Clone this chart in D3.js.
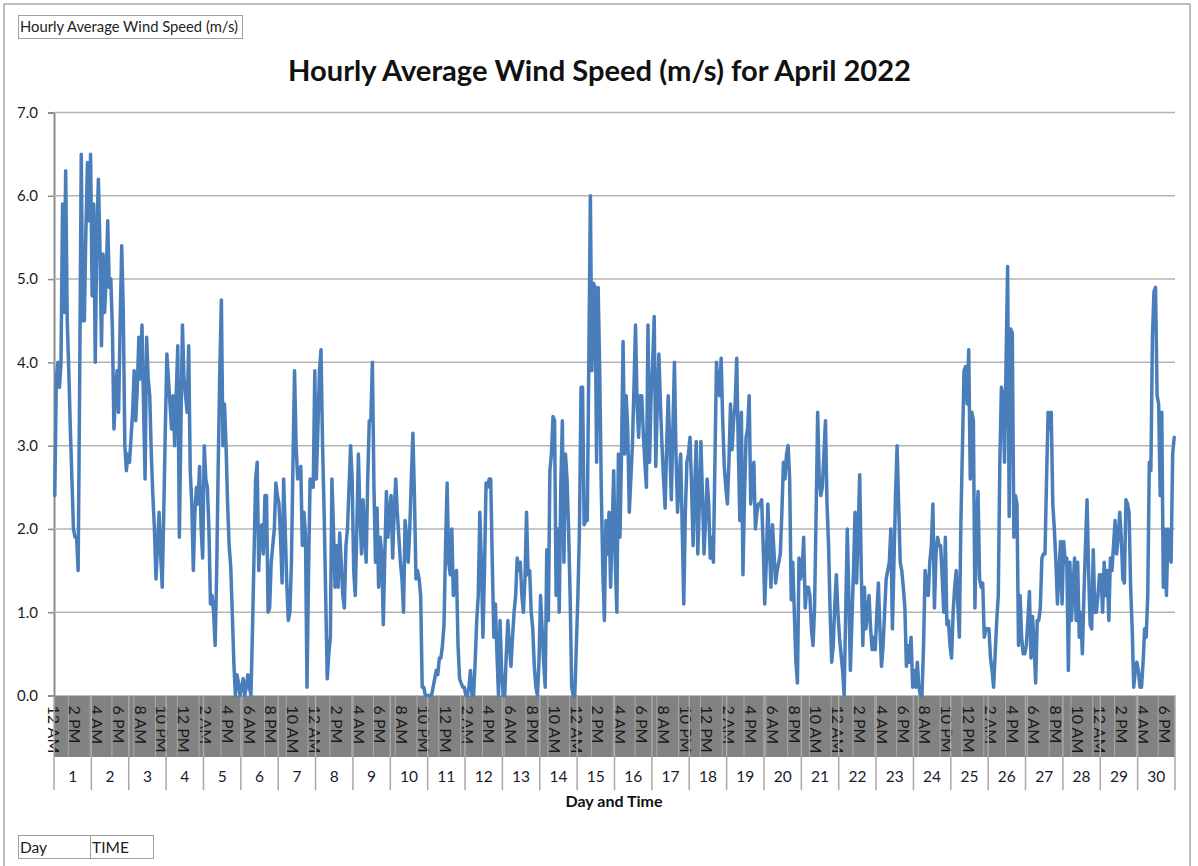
<!DOCTYPE html>
<html>
<head>
<meta charset="utf-8">
<script src="https://cdn.jsdelivr.net/npm/d3@7"></script>
<style>
  html, body { margin: 0; padding: 0; background: #fff; }
  svg { display: block; font-family: Lato, "Open Sans", sans-serif; }
</style>
</head>
<body>
<svg id="chart" width="1198" height="866"></svg>
<script>
// ---------- DATA ----------
const chartTitle = "Hourly Average Wind Speed (m/s) for April 2022";
const seriesName = "Hourly Average Wind Speed (m/s)";
const xAxisTitle = "Day and Time";
const rowFields = ["Day", "TIME"];
const days = d3.range(1, 31);
const hourLabels = ["12 AM","1 AM","2 AM","3 AM","4 AM","5 AM","6 AM","7 AM","8 AM","9 AM","10 AM","11 AM",
                    "12 PM","1 PM","2 PM","3 PM","4 PM","5 PM","6 PM","7 PM","8 PM","9 PM","10 PM","11 PM"];
const yTicks = [0, 1, 2, 3, 4, 5, 6, 7];
const labelInterval = 14;
// hourly wind speed, 24 values per day, April 1..30
const windSpeed = [
  2.4,3.8,4.0,3.7,4.0,5.9,4.6,6.3,4.5,3.9,3.2,2.6,2.0,1.9,1.9,1.5,3.8,6.5,4.5,4.5,5.6,6.4,5.7,6.5,
  4.8,5.9,4.0,5.5,6.2,5.4,4.2,5.3,4.6,5.0,5.7,4.9,5.0,4.4,3.2,3.6,3.9,3.4,4.5,5.4,4.6,3.0,2.7,2.9,
  2.8,3.1,3.4,3.9,3.3,3.7,4.3,3.8,4.45,3.5,2.6,4.3,3.8,3.6,2.9,2.4,2.0,1.4,1.8,2.2,1.7,1.3,2.2,3.2,
  4.1,3.8,3.5,3.2,3.6,3.0,3.6,4.2,1.9,3.2,4.45,3.8,3.6,3.4,4.2,2.7,2.3,1.5,2.2,2.5,2.3,2.75,2.0,1.65,
  3.0,2.6,2.5,2.0,1.1,1.2,1.0,0.6,1.5,2.8,3.9,4.75,3.0,3.5,3.0,2.3,1.8,1.55,1.0,0.4,0.0,0.25,0.15,0.0,
  0.1,0.2,0.0,0.1,0.25,0.1,0.0,0.8,1.7,2.6,2.8,1.5,2.0,2.05,1.7,2.4,2.4,1.0,1.05,1.6,1.8,2.0,2.55,2.4,
  2.3,1.9,1.35,2.6,2.0,1.35,0.9,1.0,1.6,2.8,3.9,3.0,2.6,2.7,2.75,1.8,2.2,1.95,0.1,1.5,2.6,2.5,2.5,3.9,
  2.6,3.2,3.9,4.15,3.0,2.2,1.2,0.2,0.5,0.7,2.6,2.0,1.3,1.8,1.3,1.95,1.6,1.2,1.05,1.8,2.0,2.5,3.0,2.6,
  1.5,1.2,2.0,2.9,2.2,1.7,2.35,1.9,1.6,2.6,3.3,3.3,4.0,2.5,1.6,2.25,1.3,1.9,1.7,0.85,1.7,2.45,1.9,2.2,
  2.4,1.65,2.2,2.6,2.2,1.9,1.6,1.4,1.0,2.1,1.9,1.6,2.0,2.6,3.15,2.4,1.4,1.5,1.4,1.2,0.1,0.1,0.0,0.0,
  0.0,0.0,0.0,0.1,0.2,0.3,0.25,0.45,0.45,0.6,0.85,1.8,2.55,1.6,1.45,2.0,1.2,1.4,1.5,0.6,0.2,0.15,0.1,0.1,
  0.0,0.0,0.1,0.3,0.0,0.0,0.4,0.9,1.2,2.2,1.6,0.7,1.5,2.55,2.5,2.6,2.6,1.6,0.7,1.1,0.5,0.0,0.9,0.3,
  0.0,0.0,0.5,0.9,0.6,0.35,0.7,1.0,1.2,1.65,1.5,1.6,1.2,1.0,1.4,2.2,1.45,1.5,1.0,0.8,0.35,0.1,0.0,0.4,
  1.2,0.8,0.4,0.1,1.75,0.9,2.7,2.9,3.35,3.3,1.2,2.0,1.0,2.5,3.3,1.6,2.9,2.6,2.0,1.2,0.1,0.0,0.0,0.6,
  1.2,2.0,3.7,3.7,2.05,2.1,2.1,4.0,6.0,3.9,4.95,4.9,2.8,4.9,3.9,2.5,1.5,0.9,2.1,1.7,2.2,1.3,2.0,2.7,
  1.6,1.0,2.9,1.9,2.9,4.25,2.9,3.6,3.2,2.2,2.6,3.0,3.7,4.45,3.5,3.1,3.6,3.6,3.15,2.8,2.5,4.45,2.8,3.6,
  4.0,4.55,2.75,3.5,4.1,3.5,3.0,2.6,2.25,3.0,3.6,3.0,2.35,3.2,4.0,2.9,2.2,2.6,2.9,2.0,1.1,2.2,2.8,2.9,
  3.1,2.5,1.8,2.5,3.05,1.7,2.3,3.05,2.4,1.7,2.1,2.6,2.3,1.65,1.9,1.6,2.8,4.0,3.7,3.6,4.05,3.3,2.75,2.5,
  2.3,2.8,3.5,2.95,3.3,3.5,4.05,3.0,2.1,3.4,1.45,2.4,3.1,3.2,3.6,2.3,2.6,2.8,2.0,2.2,2.3,2.3,2.35,1.8,
  1.1,1.6,2.3,1.8,1.3,2.05,1.7,1.35,1.5,1.6,1.7,2.2,2.8,2.6,2.9,3.0,2.6,1.15,1.6,1.0,0.4,0.15,1.65,1.4,
  1.5,1.9,1.05,1.3,1.3,1.2,0.8,0.6,1.05,2.2,3.4,2.6,2.4,2.5,2.9,3.3,2.3,1.8,1.0,0.4,0.6,1.1,1.45,1.0,
  0.7,0.5,0.3,0.0,1.0,2.0,1.2,0.3,0.9,1.5,2.2,1.35,2.0,2.65,1.5,0.6,1.3,0.8,1.0,1.2,0.8,0.55,0.7,0.55,
  1.0,1.35,0.8,0.35,0.6,1.0,1.4,1.5,1.6,2.0,0.8,1.6,2.4,3.0,2.3,1.6,1.5,1.3,1.05,0.35,0.6,0.4,0.7,0.1,
  0.3,0.1,0.4,0.1,0.0,0.0,0.6,1.5,1.3,1.2,1.6,1.8,2.3,1.05,1.7,1.9,1.8,1.8,1.4,1.0,1.9,0.85,0.9,0.6,
  0.45,1.0,1.3,1.5,1.1,0.7,2.1,3.0,3.9,3.95,3.5,4.15,2.6,3.4,3.3,1.05,2.0,2.45,1.4,1.3,1.35,0.7,0.8,0.8,
  0.8,0.45,0.3,0.1,0.5,0.9,1.2,2.8,3.7,3.6,2.8,4.0,5.15,2.15,4.4,4.35,1.9,2.4,2.3,0.6,1.2,0.7,0.5,0.5,
  0.6,0.9,1.25,0.45,0.95,0.6,0.15,0.9,0.9,1.05,1.65,1.7,1.7,2.6,3.4,3.2,3.4,2.3,2.0,1.6,1.1,1.5,1.85,1.1,
  1.85,1.6,1.65,0.3,1.6,0.9,1.3,1.65,0.9,1.6,0.7,1.0,0.5,1.2,1.8,2.35,1.5,0.85,0.8,1.75,1.0,1.0,1.2,1.45,
  1.45,1.0,1.6,1.2,1.5,0.9,1.65,1.5,1.8,2.1,1.7,1.9,2.2,1.9,1.4,1.35,2.35,2.3,2.2,1.3,0.8,0.1,0.3,0.4,
  0.3,0.1,0.1,0.4,0.8,0.7,1.2,2.8,2.7,4.3,4.85,4.9,3.6,3.5,2.4,3.4,1.3,2.0,1.2,2.0,1.7,1.6,2.9,3.1
];

// ---------- LAYOUT ----------
const svg = d3.select("#chart");
const plot = { left: 54, right: 1175, top: 112.5, bottom: 695.5 };
const bandBottom = 757, dayBottom = 790;
const nHours = windSpeed.length;

const x = d3.scaleLinear().domain([0, nHours]).range([plot.left, plot.right]);
const y = d3.scaleLinear().domain([0, 7]).range([plot.bottom, plot.top]);

// outer chart border
svg.append("rect").attr("x", 4).attr("y", 4).attr("width", 1186).attr("height", 880)
  .attr("fill", "none").attr("stroke", "#a6a6a6").attr("stroke-width", 1.5);

// field button (series)
svg.append("rect").attr("x", 18.5).attr("y", 15.5).attr("width", 224).attr("height", 23)
  .attr("fill", "#fff").attr("stroke", "#a0a0a0").attr("stroke-width", 1);
svg.append("text").attr("x", 20).attr("y", 32).attr("font-size", 14.6).attr("fill", "#222")
  .attr("textLength", 218).attr("lengthAdjust", "spacingAndGlyphs")
  .text(seriesName);

// title
svg.append("text").attr("x", 599.5).attr("y", 81).attr("text-anchor", "middle")
  .attr("font-size", 28.5).attr("font-weight", "bold").attr("fill", "#111")
  .attr("textLength", 623).attr("lengthAdjust", "spacingAndGlyphs").text(chartTitle);

// gridlines + y labels
const yAxis = d3.axisLeft(y).tickValues(yTicks).tickFormat(d3.format(".1f"))
  .tickSize(6).tickPadding(10);
const gy = svg.append("g").attr("transform", `translate(${plot.left},0)`).call(yAxis);
gy.select(".domain").attr("stroke", "#8c8c8c").attr("stroke-width", 2);
gy.selectAll(".tick line").attr("stroke", "#8c8c8c").attr("stroke-width", 1.5);
gy.selectAll(".tick text").attr("font-size", 15).attr("fill", "#222").attr("font-family", "Lato, sans-serif");

svg.append("g").selectAll("line").data(yTicks.filter(d => d > 0)).join("line")
  .attr("x1", plot.left).attr("x2", plot.right)
  .attr("y1", d => y(d)).attr("y2", d => y(d))
  .attr("stroke", "#b4b4b4").attr("stroke-width", 1.5);

// category band (time labels)
svg.append("rect").attr("x", plot.left).attr("y", plot.bottom).attr("width", plot.right - plot.left)
  .attr("height", bandBottom - plot.bottom).attr("fill", "#828282");

const labelIdx = d3.range(0, nHours, labelInterval);
svg.append("g").selectAll("line").data(labelIdx.filter(i => i > 0)).join("line")
  .attr("x1", i => x(i) - 7.5).attr("x2", i => x(i) - 7.5)
  .attr("y1", plot.bottom).attr("y2", bandBottom)
  .attr("stroke", "#a8a8a8").attr("stroke-width", 1);

svg.append("g").selectAll("text").data(labelIdx).join("text")
  .attr("transform", i => `translate(${x(i) - 6.5},${plot.bottom + 10}) rotate(90)`)
  .attr("font-size", 16).attr("fill", "#1a1a1a")
  .text(i => hourLabels[i % 24]);

// day separators and labels
const dayX = d3.scaleBand().domain(days).range([plot.left, plot.right]);
svg.append("g").selectAll("line").data(d3.range(0, 31)).join("line")
  .attr("x1", k => plot.left + k * dayX.bandwidth()).attr("x2", k => plot.left + k * dayX.bandwidth())
  .attr("y1", plot.bottom).attr("y2", dayBottom)
  .attr("stroke", "#a8a8a8").attr("stroke-width", 1.5);
svg.append("g").selectAll("text").data(days).join("text")
  .attr("x", d => dayX(d) + dayX.bandwidth() / 2).attr("y", 782)
  .attr("text-anchor", "middle").attr("font-size", 15.5).attr("fill", "#1a1a2e")
  .text(d => d);

// axis title
svg.append("text").attr("x", 614).attr("y", 807).attr("text-anchor", "middle")
  .attr("font-size", 16).attr("font-weight", "bold").attr("fill", "#111").text(xAxisTitle);

// row field buttons
const fx = [18.5, 90.5], fw = [72, 63];
rowFields.forEach((f, k) => {
  svg.append("rect").attr("x", fx[k]).attr("y", 835.5).attr("width", fw[k]).attr("height", 23)
    .attr("fill", "#fff").attr("stroke", "#a0a0a0").attr("stroke-width", 1);
  svg.append("text").attr("x", fx[k] + 1.5).attr("y", 853).attr("font-size", 15.5).attr("fill", "#222").text(f);
});

// line series
const line = d3.line().x((d, i) => x(i + 0.5)).y(d => y(d));
svg.append("path").datum(windSpeed).attr("d", line)
  .attr("fill", "none").attr("stroke", "#4a7ebb").attr("stroke-width", 3.5)
  .attr("stroke-linejoin", "round").attr("stroke-linecap", "round");
</script>
</body>
</html>
